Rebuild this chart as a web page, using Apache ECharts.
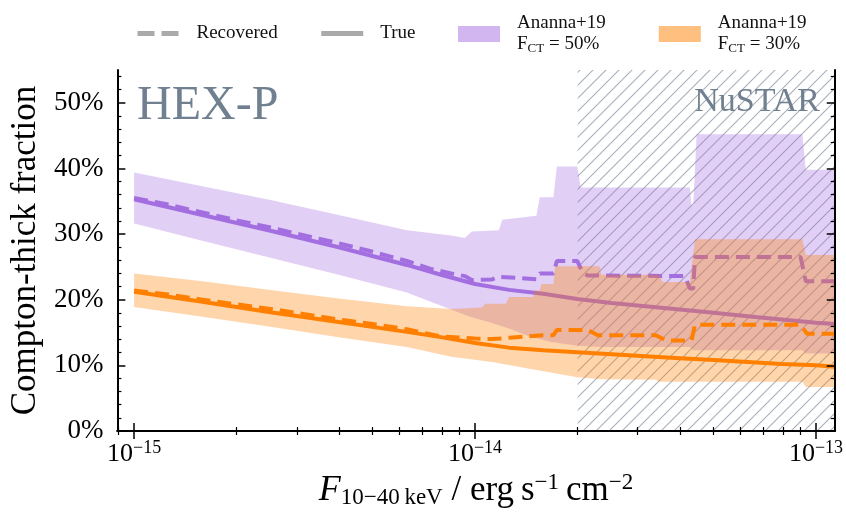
<!DOCTYPE html>
<html>
<head>
<meta charset="utf-8">
<script src="https://cdn.jsdelivr.net/npm/echarts@6.0.0/dist/echarts.min.js"></script>
<style>
  html, body { margin: 0; padding: 0; background: #fff; }
  #chart { width: 846px; height: 516px; }
</style>
</head>
<body>
<div id="chart"></div>
<script>
// x values are log10(F / erg s^-1 cm^-2), y values are percent
const xMin = -15.049;
const xMax = -12.945;
const nustarLimit = [-13.699, xMax]; // 2e-14 and above

const xTicks = [-15, -14, -13];
const xTickExp = ['\u221215', '\u221214', '\u221213'];
const yTicks = [0, 10, 20, 30, 40, 50];
const yTickLabels = ['0%', '10%', '20%', '30%', '40%', '50%'];

// true CT fraction
const xTrue = [-15.0, -14.8, -14.6, -14.4, -14.2, -14.1, -14.0, -13.9, -13.8, -13.7, -13.6, -13.5, -13.4, -13.3, -13.2, -13.1, -13.0, -12.945];
const trueP = [35.3, 32.9, 30.5, 28.0, 25.3, 23.8, 22.4, 21.5, 20.9, 20.1, 19.5, 19.0, 18.5, 18.0, 17.5, 17.0, 16.5, 16.3];
const trueO = [21.2, 19.7, 18.1, 16.6, 15.1, 14.3, 13.4, 12.7, 12.3, 12.0, 11.7, 11.4, 11.1, 10.8, 10.5, 10.2, 10.0, 9.8];

// recovered CT fraction
const xRecP = [-15.0, -14.9, -14.8, -14.7, -14.6, -14.5, -14.4, -14.3, -14.2, -14.13, -14.07, -14.03, -14.01, -13.95, -13.93, -13.87, -13.82, -13.81, -13.77, -13.76, -13.70, -13.685, -13.67, -13.385, -13.37, -13.36, -13.355, -13.045, -13.03, -12.945];
const recP = [35.5, 34.5, 33.3, 32.1, 31.0, 29.8, 28.6, 27.3, 25.9, 24.7, 24.0, 23.6, 23.0, 23.1, 23.5, 23.3, 23.1, 24.0, 24.0, 25.9, 25.9, 24.2, 23.7, 23.6, 21.7, 21.7, 26.5, 26.5, 22.8, 22.8];
const xRecO = [-15.0, -14.9, -14.8, -14.7, -14.6, -14.5, -14.4, -14.3, -14.2, -14.1, -14.0, -13.95, -13.9, -13.85, -13.8, -13.77, -13.76, -13.67, -13.64, -13.47, -13.44, -13.365, -13.355, -13.046, -13.026, -12.945];
const recO = [21.4, 20.8, 20.0, 19.3, 18.6, 17.8, 17.0, 16.3, 15.5, 14.4, 14.1, 14.0, 14.2, 14.4, 14.6, 14.6, 15.4, 15.4, 14.6, 14.6, 13.8, 13.8, 16.2, 16.2, 14.8, 14.8];

// Ananna+19 bands, F_CT = 50%
const xP50Hi = [-15.0, -14.8, -14.6, -14.4, -14.2, -14.07, -14.03, -14.01, -13.93, -13.92, -13.82, -13.81, -13.77, -13.76, -13.70, -13.69, -13.37, -13.365, -13.36, -13.35, -13.04, -13.03, -12.945];
const p50Hi = [39.4, 37.3, 35.2, 32.9, 30.6, 29.8, 29.4, 30.4, 30.6, 32.2, 32.8, 35.6, 35.6, 40.3, 40.3, 37.1, 37.1, 34.4, 34.4, 45.2, 45.2, 39.8, 39.8];
const xP50Lo = [-15.0, -14.8, -14.6, -14.4, -14.2, -14.13, -14.07, -14.02, -13.96, -13.9, -13.84, -13.78, -13.7, -13.63, -13.37, -13.36, -13.04, -13.03, -12.945];
const p50Lo = [31.6, 29.0, 26.4, 23.8, 21.1, 19.7, 18.5, 17.5, 16.6, 15.6, 14.4, 13.6, 13.0, 12.8, 12.8, 12.3, 12.3, 11.8, 11.8];

// Ananna+19 bands, F_CT = 30%
const xO30Hi = [-15.0, -14.8, -14.6, -14.4, -14.2, -14.07, -13.98, -13.97, -13.91, -13.90, -13.83, -13.825, -13.81, -13.805, -13.77, -13.765, -13.635, -13.63, -13.46, -13.45, -13.37, -13.355, -13.04, -13.03, -12.945];
const o30Hi = [24.0, 22.8, 21.5, 20.2, 19.0, 18.6, 18.8, 19.4, 19.4, 20.4, 20.4, 21.4, 21.4, 22.4, 22.4, 25.1, 25.1, 23.8, 23.8, 22.7, 22.7, 29.2, 29.2, 26.8, 26.8];
const xO30Lo = [-15.0, -14.8, -14.6, -14.4, -14.2, -14.07, -13.95, -13.84, -13.7, -13.63, -13.47, -13.46, -13.04, -13.03, -12.945];
const o30Lo = [18.9, 17.4, 15.9, 14.3, 12.8, 11.3, 10.5, 9.5, 8.2, 7.9, 7.8, 7.5, 7.5, 6.7, 6.7];

const PURPLE = '#a36ee0';
const ORANGE = '#ff8000';
const GREY = '#aaaaaa';
const SERIF = '"Liberation Serif", "DejaVu Serif", serif';

const pairs = (xs, ys) => xs.map((x, i) => [x, ys[i]]);

const minorX = [];
for (let d = -16; d <= -14; d++) {
  for (let k = 2; k <= 9; k++) {
    const v = d + Math.log10(k);
    if (v > xMin && v < xMax) minorX.push(v);
  }
}
const minorY = [];
for (let v = 2; v < 55; v += 2) if (v % 10) minorY.push(v);

// hatch for the NuSTAR range
const H = 13;
const hatch = document.createElement('canvas');
hatch.width = H;
hatch.height = H;
(() => {
  const ctx = hatch.getContext('2d');
  ctx.strokeStyle = '#a8b0b9';
  ctx.lineWidth = 1.1;
  ctx.beginPath();
  ctx.moveTo(0, H); ctx.lineTo(H, 0);
  ctx.moveTo(-H / 2, H / 2); ctx.lineTo(H / 2, -H / 2);
  ctx.moveTo(H / 2, H * 1.5); ctx.lineTo(H * 1.5, H / 2);
  ctx.stroke();
})();

const band = (name, xsHi, hi, xsLo, lo, fill, legendColor, z) => ({
  name,
  type: 'custom',
  z,
  silent: true,
  itemStyle: { color: legendColor },
  data: [[xsHi[0], hi[0]]],
  renderItem: (params, api) => {
    if (params.dataIndex !== 0) return;
    const top = xsHi.map((x, i) => api.coord([x, hi[i]]));
    const bottom = xsLo.map((x, i) => api.coord([x, lo[i]])).reverse();
    return { type: 'polygon', shape: { points: top.concat(bottom) }, style: { fill } };
  }
});

const line = (name, data, color, dashed, z) => ({
  name,
  type: 'line',
  z,
  data,
  symbol: 'none',
  silent: true,
  color,
  lineStyle: { color, width: 4, type: dashed ? [14, 7] : 'solid' }
});

const legendText = {
  'Recovered': '{n|Recovered}',
  'True': '{n|True}',
  'Ananna+19 50%': '{n|Ananna+19}\n{n|F}{sub|CT}{n| = 50%}',
  'Ananna+19 30%': '{n|Ananna+19}\n{n|F}{sub|CT}{n| = 30%}'
};

const legendBase = {
  top: 14,
  padding: 0,
  itemWidth: 42,
  itemHeight: 16,
  selectedMode: false,
  formatter: (name) => legendText[name],
  textStyle: {
    padding: [0, 0, 0, 12],
    rich: {
      n: { fontFamily: SERIF, fontSize: 19, color: '#111', lineHeight: 21 },
      sub: { fontFamily: SERIF, fontSize: 13, color: '#111', lineHeight: 13, verticalAlign: 'bottom' }
    }
  }
};

const frameAxis = {
  type: 'value',
  min: xMin,
  max: xMax,
  z: 10,
  splitLine: { show: false }
};

const chart = echarts.init(document.getElementById('chart'), null, { renderer: 'canvas' });
chart.setOption({
  animation: false,
  backgroundColor: '#fff',
  grid: { left: 115, right: 10, top: 70, bottom: 85 },
  legend: [
    Object.assign({}, legendBase, {
      left: 135,
      top: 24,
      itemGap: 41,
      data: [
        { name: 'Recovered', itemStyle: { opacity: 0 }, lineStyle: { width: 5, type: [17, 7] } },
        { name: 'True', itemStyle: { opacity: 0 }, lineStyle: { width: 5 } }
      ]
    }),
    Object.assign({}, legendBase, {
      left: 458,
      itemGap: 53,
      data: [
        { name: 'Ananna+19 50%', icon: 'rect', itemStyle: { color: 'rgba(163,110,224,0.5)' } },
        { name: 'Ananna+19 30%', icon: 'rect', itemStyle: { color: 'rgba(255,128,0,0.5)' } }
      ]
    })
  ],
  xAxis: [
    Object.assign({}, frameAxis, {
      position: 'bottom',
      axisLine: { lineStyle: { color: '#000', width: 2 } },
      axisTick: { inside: true, length: 8, lineStyle: { color: '#000', width: 1.5 }, customValues: xTicks },
      axisLabel: {
        customValues: xTicks,
        margin: 8,
        formatter: (v) => '{b|10}{sup|' + xTickExp[xTicks.indexOf(Math.round(v))] + '}',
        rich: {
          b: { fontFamily: SERIF, fontSize: 26, color: '#000', lineHeight: 30 },
          sup: { fontFamily: SERIF, fontSize: 18, color: '#000', lineHeight: 20, verticalAlign: 'top' }
        }
      },
      name: '{f|F}{s|10\u221240\u2009keV}{n| / erg\u2009s}{p|\u22121}{n|\u2009cm}{p|\u22122}',
      nameLocation: 'middle',
      nameGap: 37,
      nameTextStyle: {
        rich: {
          f: { fontFamily: SERIF, fontSize: 36, fontStyle: 'italic', color: '#000', lineHeight: 38 },
          s: { fontFamily: SERIF, fontSize: 23, color: '#000', lineHeight: 22, verticalAlign: 'bottom' },
          n: { fontFamily: SERIF, fontSize: 35, color: '#000', lineHeight: 38 },
          p: { fontFamily: SERIF, fontSize: 23, color: '#000', lineHeight: 24, verticalAlign: 'top' }
        }
      }
    }),
    Object.assign({}, frameAxis, {
      position: 'bottom',
      axisLine: { show: false },
      axisTick: { inside: true, length: 4, lineStyle: { color: '#000', width: 1.2 }, customValues: minorX },
      axisLabel: { show: false }
    }),
    Object.assign({}, frameAxis, {
      position: 'top',
      axisLine: { lineStyle: { color: '#000', width: 2 } },
      axisTick: { inside: true, length: 8, lineStyle: { color: '#000', width: 1.5 }, customValues: xTicks },
      axisLabel: { show: false }
    }),
    Object.assign({}, frameAxis, {
      position: 'top',
      axisLine: { show: false },
      axisTick: { inside: true, length: 4, lineStyle: { color: '#000', width: 1.2 }, customValues: minorX },
      axisLabel: { show: false }
    })
  ],
  yAxis: [
    {
      type: 'value', min: 0, max: 55, position: 'left', z: 10,
      splitLine: { show: false },
      axisLine: { show: true, lineStyle: { color: '#000', width: 2 } },
      axisTick: { show: true, inside: true, length: 8, lineStyle: { color: '#000', width: 1.5 }, customValues: yTicks },
      axisLabel: {
        customValues: yTicks,
        margin: 14,
        fontFamily: SERIF, fontSize: 27, color: '#000',
        formatter: (v) => yTickLabels[yTicks.indexOf(Math.round(v))]
      },
      name: 'Compton-thick fraction',
      nameLocation: 'middle',
      nameGap: 71,
      nameTextStyle: { fontFamily: SERIF, fontSize: 35, color: '#000' }
    },
    {
      type: 'value', min: 0, max: 55, position: 'left', z: 10,
      splitLine: { show: false },
      axisLine: { show: false },
      axisTick: { show: true, inside: true, length: 4, lineStyle: { color: '#000', width: 1.2 }, customValues: minorY },
      axisLabel: { show: false }
    },
    {
      type: 'value', min: 0, max: 55, position: 'right', z: 10,
      splitLine: { show: false },
      axisLine: { show: true, lineStyle: { color: '#000', width: 2 } },
      axisTick: { show: true, inside: true, length: 8, lineStyle: { color: '#000', width: 1.5 }, customValues: yTicks },
      axisLabel: { show: false }
    },
    {
      type: 'value', min: 0, max: 55, position: 'right', z: 10,
      splitLine: { show: false },
      axisLine: { show: false },
      axisTick: { show: true, inside: true, length: 4, lineStyle: { color: '#000', width: 1.2 }, customValues: minorY },
      axisLabel: { show: false }
    }
  ],
  graphic: [
    { type: 'text', left: 137, top: 82, z: 20, style: { text: 'HEX-P', font: '48px ' + SERIF, fill: '#708090' } },
    { type: 'text', right: 26, top: 85, z: 20, style: { text: 'NuSTAR', font: '34px ' + SERIF, fill: '#708090' } }
  ],
  series: [
    {
      name: 'NuSTAR',
      type: 'custom',
      z: 1,
      silent: true,
      data: [[nustarLimit[0], 0]],
      renderItem: (params, api) => {
        const a = api.coord([nustarLimit[0], 55]);
        const b = api.coord([nustarLimit[1], 0]);
        return {
          type: 'rect',
          shape: { x: a[0], y: a[1], width: b[0] - a[0], height: b[1] - a[1] },
          style: { fill: { image: hatch, repeat: 'repeat' } }
        };
      }
    },
    band('Ananna+19 50%', xP50Hi, p50Hi, xP50Lo, p50Lo, 'rgba(163,110,224,0.33)', 'rgba(163,110,224,0.5)', 2),
    line('pTrue', pairs(xTrue, trueP), PURPLE, false, 3),
    line('pRec', pairs(xRecP, recP), PURPLE, true, 3),
    band('Ananna+19 30%', xO30Hi, o30Hi, xO30Lo, o30Lo, 'rgba(255,128,0,0.33)', 'rgba(255,128,0,0.5)', 4),
    line('oTrue', pairs(xTrue, trueO), ORANGE, false, 5),
    line('oRec', pairs(xRecO, recO), ORANGE, true, 5),
    line('Recovered', [], GREY, true, 0),
    line('True', [], GREY, false, 0)
  ]
});
</script>
</body>
</html>
